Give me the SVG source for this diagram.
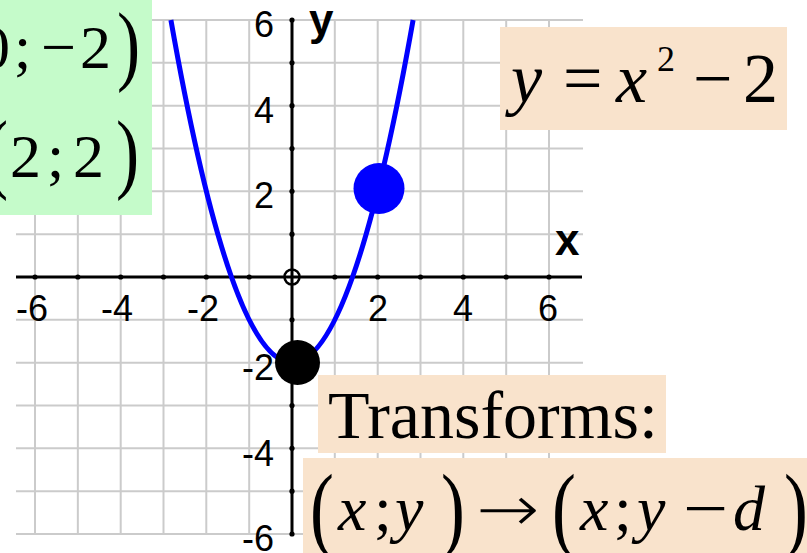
<svg xmlns="http://www.w3.org/2000/svg" width="807" height="553" viewBox="0 0 807 553">
<style>
.grid line{stroke:#cbcbcb;stroke-width:2}
.axis{stroke:#000;stroke-width:3}
.tick{fill:#000}
.num{font-family:"Liberation Sans",Arial,sans-serif;font-size:36px;fill:#000}
.axlbl{font-family:"Liberation Sans",Arial,sans-serif;font-size:44px;font-weight:bold;fill:#000}
.m{font-family:"Liberation Serif","Times New Roman",serif;fill:#000}
.i{font-style:italic}
</style>
<rect width="807" height="553" fill="#fff"/>
<g id="grid" class="grid">
<line x1="35" y1="20" x2="35" y2="534"/><line x1="77.85" y1="20" x2="77.85" y2="534"/><line x1="120.7" y1="20" x2="120.7" y2="534"/><line x1="163.5" y1="20" x2="163.5" y2="534"/><line x1="206.3" y1="20" x2="206.3" y2="534"/><line x1="249.2" y1="20" x2="249.2" y2="534"/><line x1="334.8" y1="20" x2="334.8" y2="534"/><line x1="377.7" y1="20" x2="377.7" y2="534"/><line x1="420.5" y1="20" x2="420.5" y2="534"/><line x1="463.3" y1="20" x2="463.3" y2="534"/><line x1="506.2" y1="20" x2="506.2" y2="534"/><line x1="549" y1="20" x2="549" y2="534"/>
<line x1="16" y1="20" x2="583" y2="20"/><line x1="16" y1="62.85" x2="583" y2="62.85"/><line x1="16" y1="105.7" x2="583" y2="105.7"/><line x1="16" y1="148.5" x2="583" y2="148.5"/><line x1="16" y1="191.3" x2="583" y2="191.3"/><line x1="16" y1="234.2" x2="583" y2="234.2"/><line x1="16" y1="319.8" x2="583" y2="319.8"/><line x1="16" y1="362.7" x2="583" y2="362.7"/><line x1="16" y1="405.5" x2="583" y2="405.5"/><line x1="16" y1="448.3" x2="583" y2="448.3"/><line x1="16" y1="491.2" x2="583" y2="491.2"/><line x1="16" y1="534" x2="583" y2="534"/>
</g>
<g id="axes">
<line class="axis" x1="16" y1="277" x2="582" y2="277"/>
<line class="axis" x1="292" y1="20" x2="292" y2="534"/>
<g class="tick">
<circle cx="35" cy="277" r="2.6"/><circle cx="77.85" cy="277" r="2.6"/><circle cx="120.7" cy="277" r="2.6"/><circle cx="163.5" cy="277" r="2.6"/><circle cx="206.3" cy="277" r="2.6"/><circle cx="249.2" cy="277" r="2.6"/><circle cx="334.8" cy="277" r="2.6"/><circle cx="377.7" cy="277" r="2.6"/><circle cx="420.5" cy="277" r="2.6"/><circle cx="463.3" cy="277" r="2.6"/><circle cx="506.2" cy="277" r="2.6"/><circle cx="549" cy="277" r="2.6"/>
<circle cx="292" cy="20" r="2.6"/><circle cx="292" cy="62.85" r="2.6"/><circle cx="292" cy="105.7" r="2.6"/><circle cx="292" cy="148.5" r="2.6"/><circle cx="292" cy="191.3" r="2.6"/><circle cx="292" cy="234.2" r="2.6"/><circle cx="292" cy="319.8" r="2.6"/><circle cx="292" cy="362.7" r="2.6"/><circle cx="292" cy="405.5" r="2.6"/><circle cx="292" cy="448.3" r="2.6"/><circle cx="292" cy="491.2" r="2.6"/><circle cx="292" cy="534" r="2.6"/>
</g>
<circle cx="292" cy="277" r="7.5" fill="none" stroke="#000" stroke-width="2.5"/>
<g class="num" text-anchor="middle">
<text x="32" y="321">-6</text><text x="117" y="321">-4</text><text x="203" y="321">-2</text>
<text x="378" y="321">2</text><text x="463" y="321">4</text><text x="548" y="321">6</text>
</g>
<g class="num" text-anchor="end">
<text x="274" y="37">6</text><text x="274" y="123">4</text><text x="274" y="208">2</text>
<text x="274" y="380">-2</text><text x="274" y="466">-4</text><text x="274" y="551">-6</text>
</g>
<text class="axlbl" x="555" y="255">x</text>
<text class="axlbl" x="309" y="35">y</text>
</g>
<g id="curve">
<path d="M170.9 20 Q292 705.3 413.1 20" fill="none" stroke="#0000ff" stroke-width="5"/>
</g>
<g id="point-blue"><circle cx="379" cy="188.5" r="25.5" fill="#0000ff"/></g>
<g id="point-black"><circle cx="297.5" cy="362.5" r="22.5" fill="#000"/></g>
<g id="box-points">
<rect x="0" y="0" width="152" height="215" fill="#c5fbca"/>
<text class="m" font-size="62" y="68"><tspan x="-21">0</tspan><tspan x="14">;</tspan><tspan x="41">−</tspan><tspan x="80">2</tspan></text>
<text class="m" font-size="62" transform="translate(-50,74) scale(1.12,1.45)">(</text>
<text class="m" font-size="62" transform="translate(117,74) scale(1.12,1.45)">)</text>
<text class="m" font-size="62" y="177"><tspan x="10">2</tspan><tspan x="47">;</tspan><tspan x="73">2</tspan></text>
<text class="m" font-size="62" transform="translate(-15,182) scale(1.12,1.45)">(</text>
<text class="m" font-size="62" transform="translate(116,182) scale(1.12,1.45)">)</text>
</g>
<g id="box-function">
<rect x="500" y="27" width="287" height="103" fill="#f9e3cc"/>
<text class="m" font-size="70" y="102"><tspan class="i" x="511">y</tspan><tspan x="563">=</tspan><tspan class="i" x="616">x</tspan><tspan x="693">−</tspan><tspan x="743">2</tspan></text>
<text class="m" font-size="36" x="657" y="71">2</text>
</g>
<g id="box-transforms">
<rect x="318" y="375" width="348" height="78" fill="#f9e3cc"/>
<text class="m" font-size="68" x="328" y="438">Transforms:</text>
</g>
<g id="box-rule">
<rect x="303" y="458" width="504" height="95" fill="#f9e3cc"/>
<text class="m" font-size="64" y="530"><tspan class="i" x="338">x</tspan><tspan x="374">;</tspan><tspan class="i" x="395">y</tspan><tspan class="i" x="580">x</tspan><tspan x="614">;</tspan><tspan class="i" x="637">y</tspan><tspan class="i" x="733">d</tspan></text>
<text font-family="DejaVu Sans,sans-serif" font-weight="200" font-size="64" transform="translate(476,531) scale(1.18,1)">→</text>
<text class="m" font-size="64" transform="translate(683,530) scale(1.25,1)">−</text>
<text class="m" font-size="64" transform="translate(310,540) scale(1.12,1.5)">(</text>
<text class="m" font-size="64" transform="translate(441,540) scale(1.12,1.5)">)</text>
<text class="m" font-size="64" transform="translate(552,540) scale(1.12,1.5)">(</text>
<text class="m" font-size="64" transform="translate(784,540) scale(1.12,1.5)">)</text>
</g>
</svg>
